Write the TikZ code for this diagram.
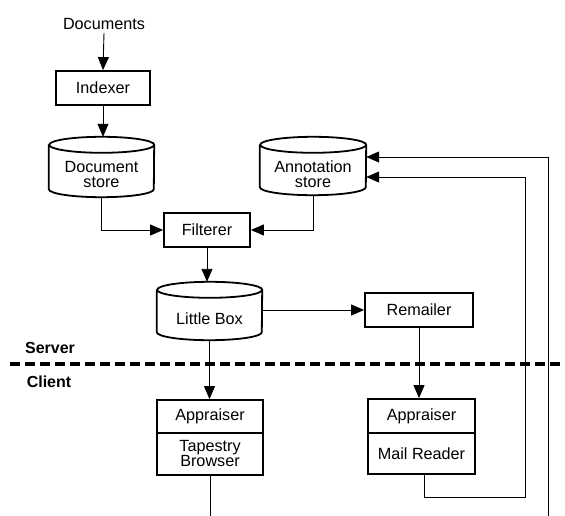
\documentclass[tikz,border=0pt]{standalone}
\usepackage{fontspec}
\setmainfont{Liberation Sans}
\usetikzlibrary{arrows.meta,calc}
\begin{document}
\begin{tikzpicture}[x=1pt,y=-1pt,
  font=\fontsize{16.2}{15}\selectfont,
  boxnode/.style={draw, line width=1.8pt, inner sep=0pt, align=center},
  cylbody/.style={inner sep=0pt, align=center},
  cyl/.style={line width=1.8pt},
  arr/.style={-{Triangle[length=13pt,width=11pt]}, line width=0.9pt},
  plain/.style={line width=0.9pt},
  sidelabel/.style={font=\fontsize{16}{15}\selectfont\bfseries, inner sep=0pt}
]
\useasboundingbox (0,0) rectangle (565,516);

% text and boxes
\node[inner sep=0pt] (docs) at (104,24) {Documents};
\node[boxnode, minimum width=94pt, minimum height=34pt] (idx) at (103,88) {Indexer};
\node[cylbody, minimum width=105pt, minimum height=44pt] (ds) at (101.5,175) {Document\\store};
\node[cylbody, minimum width=106pt, minimum height=42pt] (as) at (313,174) {Annotation\\store};
\node[boxnode, minimum width=86pt, minimum height=34pt] (filt) at (207,230) {Filterer};
\node[cylbody, minimum width=105pt, minimum height=42pt] (lb) at (209.5,319) {Little Box};
\node[boxnode, minimum width=108pt, minimum height=34pt] (rem) at (419,310) {Remailer};
\node[boxnode, minimum width=106pt, minimum height=33pt] (app1) at (210,416.5) {Appraiser};
\node[boxnode, minimum width=106pt, minimum height=42pt] (tb) at (210,454) {Tapestry\\Browser};
\node[boxnode, minimum width=107pt, minimum height=34pt] (app2) at (421.5,416) {Appraiser};
\node[boxnode, minimum width=107pt, minimum height=41pt] (mr) at (421.5,453.5) {Mail Reader};
\node[sidelabel] (server) at (50,348) {Server};
\node[sidelabel] (client) at (49,382) {Client};

% cylinders
\foreach \n/\r in {ds/52.5,as/53,lb/52.5}{
  \draw[cyl] ([yshift=8pt]\n.north west) -- ([yshift=8pt]\n.south west)
    arc[start angle=180,end angle=360,x radius=\r pt,y radius=8pt]
    -- ([yshift=8pt]\n.north east)
    arc[start angle=0,end angle=180,x radius=\r pt,y radius=8pt]
    arc[start angle=180,end angle=360,x radius=\r pt,y radius=8pt];
  \coordinate (\n-top) at ([yshift=16pt]\n.north);
}

% free ends
\coordinate (tbend) at (211,516);
\coordinate (mrturn) at (525,497);
\coordinate (farend) at (548,516);
\coordinate (dashL) at (10,364);
\coordinate (dashR) at (565,364);

% connectors
\draw[arr] (docs.south) ++(0,3) -- (idx.north);
\draw[arr] (idx.south) -- (idx.south |- ds-top);
\draw[arr] (ds.south) |- (filt.west);
\draw[arr] (as.south) |- (filt.east);
\draw[arr] (filt.south) -- (filt.south |- lb-top);
\draw[arr] (lb.east |- rem.west) -- (rem.west);
\draw[arr] (lb.south) -- (lb.south |- app1.north);
\draw[arr] (rem.south) -- (rem.south |- app2.north);
\draw[plain] (tb.south) -- (tb.south |- tbend);
\draw[arr] ([xshift=3pt]mr.south) |- (mrturn) |- ([yshift=-3pt]as.east);
\draw[arr] (farend) |- ([yshift=17pt]as.east);

% server / client divider
\draw[line width=3.2pt, dash pattern=on 10pt off 5pt] (dashL) -- (dashR);
\end{tikzpicture}
\end{document}
